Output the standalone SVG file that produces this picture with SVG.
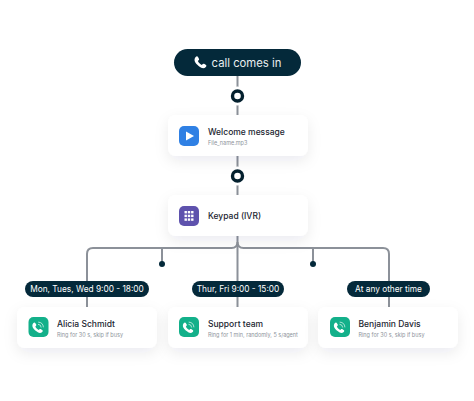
<svg xmlns="http://www.w3.org/2000/svg" width="474" height="401" viewBox="0 0 474 401">
<defs>
<filter id="sh" x="-20%" y="-40%" width="140%" height="200%"><feDropShadow dx="0" dy="5" stdDeviation="7" flood-color="#1a2a3a" flood-opacity="0.08"/></filter>
<g id="ph"><path d="M-4.600-4.400c.8-.8 1.600-.6 2 .1l.8 1.400c.3.6.1 1-.3 1.400l-.6.6c.5 1.400 2 2.900 3.400 3.400l.6-.6c.4-.4.8-.6 1.400-.3l1.400.8c.7.4.9 1.200.1 2-1 1.100-2.400 1.400-4 .7C-2.400 3.600-3.900 2.100-5.200.1-5.900-1.500-5.700-3.400-4.600-4.400z"/></g>
<g id="ring"><use href="#ph"/><path d="M0-3.200A3.400 3.400 0 0 1 3.200 0M.2-5.400A5.600 5.600 0 0 1 5.400-.2" fill="none" stroke="#fff" stroke-width=".8" stroke-opacity=".8"/></g>
</defs>
<style>
text{font-family:"Inter","Noto Sans",sans-serif}
.card{fill:#fff;filter:url(#sh)}
.t{font-size:8.500px;font-weight:500;fill:#1b2530}
.s{font-size:5.500px;fill:#8d939a}
.pill{fill:#04293a}
.pt{font-size:8.300px;fill:#fff;text-anchor:middle}
.ln{fill:none;stroke:#8c9199;stroke-width:2}
</style>
<rect width="474" height="401" fill="#fff"/>
<g id="connectors">
<path class="ln" d="M237.500 75V116M237.500 156V196M237.500 235V308"/>
<path class="ln" d="M87 308V254Q87 248 93 248H231.500Q237.500 248 237.500 242Q237.500 248 243.500 248H383Q389 248 389 254V308"/>
<path class="ln" d="M162 248V264M313 248V264"/>
<circle cx="162" cy="264" r="3" fill="#04293a"/>
<circle cx="313" cy="264" r="3" fill="#04293a"/>
<circle cx="237.500" cy="96" r="9.500" fill="#fff"/>
<circle cx="237.500" cy="176" r="9.500" fill="#fff"/>
<circle cx="237.500" cy="96" r="5" fill="#fff" stroke="#04202e" stroke-width="3.400"/>
<circle cx="237.500" cy="176" r="5" fill="#fff" stroke="#04202e" stroke-width="3.400"/>
</g>
<g id="start"><rect x="174" y="49" width="127" height="27" rx="13.500" class="pill"/><use href="#ph" transform="translate(201 62) scale(1.150)" fill="#fff"/><text x="246.500" y="66.500" font-size="11.300" fill="#e9eef0" text-anchor="middle">call comes in</text></g>
<g id="welcome"><rect x="168" y="115" width="140" height="41" rx="8" class="card"/><rect x="179" y="126" width="20" height="20" rx="5" fill="#2f80e4"/><path d="M186 131.500L194 136L186 140.500Z" fill="#fff"/><text x="208" y="135" class="t">Welcome message</text><text x="208" y="144.500" class="s">File_name.mp3</text></g>
<g id="keypad"><rect x="168" y="195" width="140" height="41" rx="8" class="card"/><rect x="179" y="206" width="20" height="20" rx="5" fill="#5e52ad"/><g fill="#fff"><rect x="184.500" y="211" width="2.400" height="2.400"/><rect x="187.800" y="211" width="2.400" height="2.400"/><rect x="191.100" y="211" width="2.400" height="2.400"/><rect x="184.500" y="214.700" width="2.400" height="2.400"/><rect x="187.800" y="214.700" width="2.400" height="2.400"/><rect x="191.100" y="214.700" width="2.400" height="2.400"/><rect x="184.500" y="218.400" width="2.400" height="2.400"/><rect x="187.800" y="218.400" width="2.400" height="2.400"/><rect x="191.100" y="218.400" width="2.400" height="2.400"/></g><text x="208" y="219" class="t">Keypad (IVR)</text></g>
<g id="alicia"><rect x="17" y="307" width="140" height="41" rx="8" class="card"/><rect x="28.500" y="317" width="20" height="20" rx="5" fill="#13b08a"/><use href="#ring" transform="translate(38 327.500)" fill="#fff"/><text x="57" y="326.500" class="t">Alicia Schmidt</text><text x="57" y="336.500" class="s">Ring for 30 s, skip if busy</text></g>
<g id="support"><rect x="168" y="307" width="140" height="41" rx="8" class="card"/><rect x="179" y="317" width="20" height="20" rx="5" fill="#13b08a"/><use href="#ring" transform="translate(188.500 327.500)" fill="#fff"/><text x="208" y="326.500" class="t">Support team</text><text x="208" y="336.500" class="s">Ring for 1 min, randomly, 5 s/agent</text></g>
<g id="benjamin"><rect x="318" y="307" width="140" height="41" rx="8" class="card"/><rect x="330" y="317" width="20" height="20" rx="5" fill="#13b08a"/><use href="#ring" transform="translate(339.500 327.500)" fill="#fff"/><text x="358.500" y="326.500" class="t">Benjamin Davis</text><text x="358.500" y="336.500" class="s">Ring for 30 s, skip if busy</text></g>
<g id="label1"><rect x="25" y="281" width="124" height="16" rx="8" class="pill"/><text x="87" y="292" class="pt">Mon, Tues, Wed 9:00 - 18:00</text></g>
<g id="label2"><rect x="192" y="281" width="92" height="16" rx="8" class="pill"/><text x="238" y="292" class="pt">Thur, Fri 9:00 - 15:00</text></g>
<g id="label3"><rect x="347" y="281" width="83" height="16" rx="8" class="pill"/><text x="388.500" y="292" class="pt">At any other time</text></g>
</svg>
